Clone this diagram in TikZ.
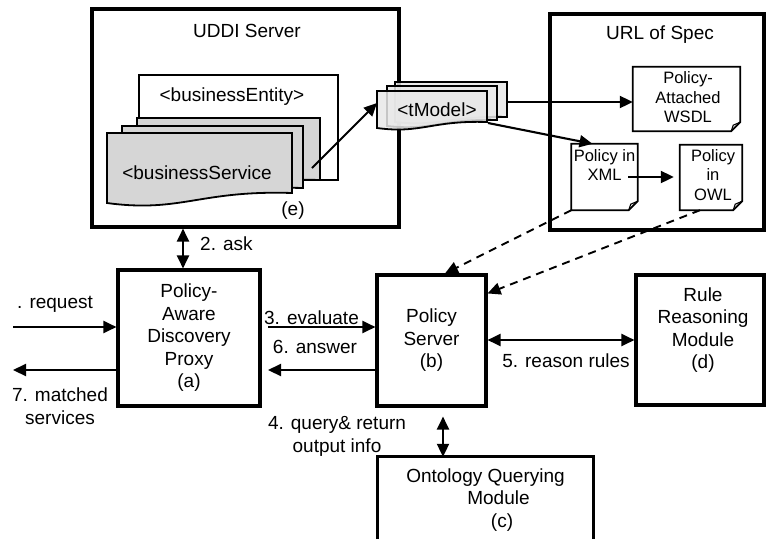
\documentclass[tikz,border=0pt]{standalone}
\usepackage{fontspec}
\setmainfont{Liberation Sans}
\usetikzlibrary{arrows.meta,calc}
\definecolor{bsgray}{gray}{0.84}
\definecolor{tmgray}{gray}{0.91}
\tikzset{
 bigbox/.style={draw, line width=3.1pt, inner sep=0pt, align=center},
 lbl/.style={inner sep=0pt, align=center},
 small/.style={font=\fontsize{16.5}{19.5}\selectfont, inner sep=0pt, align=center},
 arr/.style={line width=2.1pt, -{Triangle[length=13pt,width=12pt]}},
 dbl/.style={line width=2.1pt, {Triangle[length=13pt,width=12pt]}-{Triangle[length=13pt,width=12pt]}},
 dasharr/.style={line width=1.9pt, dash pattern=on 8pt off 6pt, -{Triangle[length=13pt,width=12pt]}},
 docline/.style={line width=1.8pt, line join=miter},
 docnode/.style={inner sep=0pt, draw=none},
}
\newcommand{\wdoc}[8]{\filldraw[docline, fill=#6, fill opacity=#8] (#1,#2) -- (#3,#2) -- (#3,#5) .. controls ({#1+0.5*(#3-#1)},{#5-0.3*#7}) and ({#1+0.4*(#3-#1)},{#4+#7}) .. (#1,#4) -- cycle;}
\newcommand{\fdoc}[1]{\draw[docline] (#1.north west) -- (#1.north east) -- ([yshift=9pt]#1.south east) -- ([xshift=-9pt]#1.south east) -- (#1.south west) -- cycle;
 \draw[line width=1.1pt] ([yshift=9pt]#1.south east) -- ([xshift=-7pt,yshift=6pt]#1.south east) -- ([xshift=-9pt]#1.south east);}
\begin{document}
\begin{tikzpicture}[x=1pt,y=-1pt, font=\fontsize{19}{22.5}\selectfont]
\useasboundingbox (0,0) rectangle (766,539);

% containers
\node[bigbox, minimum width=307, minimum height=218] (uddi) at (245.5,118) {};
\node[lbl] (uddit) at (247,31) {UDDI Server};
\node[bigbox, minimum width=214, minimum height=216] (url) at (657,122) {};
\node[lbl] (urlt) at (660,35) {URL of Spec};

% businessEntity
\node[draw, line width=1.8pt, minimum width=199, minimum height=105, inner sep=0pt] (be) at (238.5,127.5) {};
\node[lbl] (bet) at (232,97) {<businessEntity>};

% businessService stack
\wdoc{137}{118}{320}{188}{180}{bsgray}{8}{1}
\wdoc{122}{126}{303}{196}{188}{bsgray}{8}{1}
\wdoc{107}{133}{292}{203}{193}{bsgray}{10}{1}
\node[lbl] (bs) at (197,173) {<businessService};
\node[lbl] (e) at (293,211) {(e)};

% tModel stack
\wdoc{395}{82}{507}{122}{117}{tmgray}{5}{0.85}
\wdoc{387}{86}{497}{126}{120}{tmgray}{5}{0.85}
\wdoc{377}{91}{487}{128}{122}{tmgray}{6}{0.85}
\node[lbl] (tm) at (437,110) {<tModel>};

% spec documents
\node[docnode, minimum width=107, minimum height=64] (wsdl) at (686.5,99) {};
\fdoc{wsdl}
\node[small] (wsdlt) at (688,97.5) {Policy-\\Attached\\WSDL};
\node[docnode, minimum width=66, minimum height=66] (xml) at (604.5,177) {};
\fdoc{xml}
\node[small] (xmlt) at (604.5,165) {Policy in\\XML};
\node[docnode, minimum width=62, minimum height=65] (owl) at (711,177.5) {};
\fdoc{owl}
\node[small] (owlt) at (713,175) {Policy\\in\\OWL};

% main boxes
\node[bigbox, minimum width=142, minimum height=136] (proxy) at (189,338) {Policy-\\Aware\\Discovery\\Proxy\\(a)};
\node[bigbox, minimum width=109, minimum height=131] (ps) at (431.5,340.5) {Policy\\Server\\(b)};
\node[bigbox, minimum width=128, minimum height=130] (rule) at (700,340) {};
\node[lbl] (rulet) at (703,330) {Rule\\Reasoning\\Module\\(d)};
\node[docnode, minimum width=215, minimum height=82] (onto) at (485.5,498) {};
\draw[line width=3.1pt] (onto.south west) |- (onto.north east) -- (onto.south east);
\node[lbl] (ontot) at (485.5,500) {Ontology Querying\\\hspace*{26pt}Module\\\hspace*{33pt}(c)};

% connectors in the top area
\coordinate (bsout) at (312,168);
\coordinate (tmin) at (377,103);
\draw[arr] (bsout) -- (tmin);
\coordinate (tmr) at (507,102);
\draw[arr] (tmr) -- (wsdl.west |- tmr);
\coordinate (tmb) at (488,123);
\draw[arr] (tmb) -- ([xshift=-12pt]xml.north);
\coordinate (xmlo) at (628,177);
\draw[arr, shorten >=6pt] (xmlo) -- (owl.west |- xmlo);
\draw[dasharr] (xml.south west) -- ([xshift=13.5pt]ps.north);
\draw[dasharr] ([xshift=-11pt]owl.south) -- ([yshift=-20pt]ps.north east);

% ask
\coordinate (askx) at (183,0);
\draw[dbl] (uddi.south -| askx) -- (proxy.north -| askx);
\node[lbl, anchor=west] (askl) at (200,244) {2. ask};

% request / matched
\coordinate (reqs) at (13,327);
\draw[arr] (reqs) -- (proxy.west |- reqs);
\node[lbl, anchor=west] (reql) at (17,304) {. request};
\coordinate (mate) at (13,370);
\draw[arr] (proxy.west |- mate) -- (mate);
\node[lbl] (matl) at (60,406) {7. matched\\services};

% evaluate / answer
\coordinate (evs) at (268,327);
\draw[arr] (evs) -- (ps.west |- evs);
\node[lbl] (evl) at (311.5,318) {3. evaluate};
\coordinate (ane) at (268,370);
\draw[arr] (ps.west |- ane) -- (ane);
\node[lbl] (anl) at (315,347) {6. answer};

% reason rules
\coordinate (ry) at (0,340);
\draw[dbl] (ps.east |- ry) -- (rule.west |- ry);
\node[lbl] (rrl) at (566,361) {5. reason rules};

% query
\coordinate (qx) at (443,0);
\draw[dbl, shorten <=9pt] (ps.south -| qx) -- (onto.north -| qx);
\node[lbl] (ql) at (337,436.5) {4. query\& return\\output info};
\end{tikzpicture}
\end{document}
